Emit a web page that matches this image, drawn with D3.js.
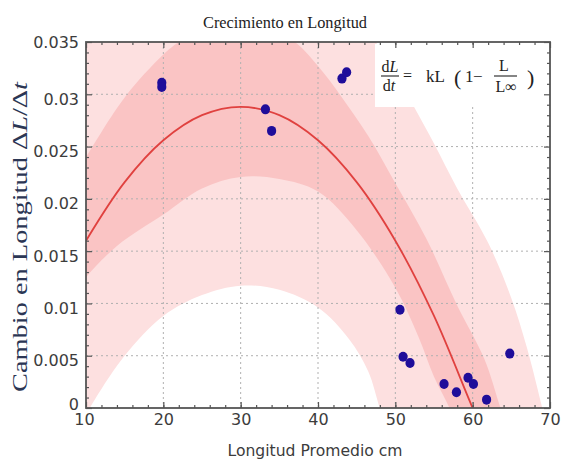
<!DOCTYPE html>
<html>
<head>
<meta charset="utf-8">
<script src="https://cdn.jsdelivr.net/npm/d3@7"></script>
<style>
  html, body { margin: 0; padding: 0; background: #fff; }
  svg { display: block; }
</style>
</head>
<body>
<div id="chart"></div>
<script>
// ticks
const xTicks = [10, 20, 30, 40, 50, 60, 70];
const yTicks = [0, 0.005, 0.01, 0.015, 0.02, 0.025, 0.03, 0.035];
const yTickLabels = ["0", "0.005", "0.01", "0.015", "0.02", "0.025", "0.03", "0.035"];

// observed points [longitud, cambio]
const obsL = [19.8, 19.8, 33.2, 34.0, 43.1, 43.7, 50.6, 51.0, 51.9, 56.3, 57.9, 59.4, 60.1, 61.8, 64.8];
const obsD = [0.0311, 0.0307, 0.02856, 0.0265, 0.0315, 0.0321, 0.0094, 0.0049, 0.0043, 0.0023, 0.0015, 0.0029, 0.0023, 0.0008, 0.0052];

// fitted curve
const fitL = [10, 15, 20, 25, 30, 35, 40, 45, 50, 55, 60, 61];
const fitD = [0.016, 0.0216, 0.0256, 0.028, 0.0288, 0.028, 0.0256, 0.0216, 0.016, 0.0088, 0, -0.0016];

// band edges
const outerHiL = [9, 20, 30, 40, 45, 50, 52.5, 55, 58, 62, 65, 67, 69, 70];
const outerHiD = [0.040, 0.050, 0.052, 0.045, 0.038, 0.032, 0.0287, 0.0253, 0.021, 0.0158, 0.0105, 0.0058, 0, -0.003];
const innerHiL = [9, 10, 15, 20, 22, 25, 29, 33, 37, 40, 43, 46.5, 50, 54, 58, 61.5, 63.6, 65];
const innerHiD = [0.0228, 0.024, 0.0297, 0.0338, 0.035, 0.0363, 0.037, 0.0364, 0.035, 0.0327, 0.0298, 0.026, 0.0215, 0.0162, 0.0098, 0.0047, 0, -0.003];
const innerLoL = [9, 10, 14, 20, 25, 30, 35, 40, 45, 50, 53, 55, 57, 58];
const innerLoD = [0.0115, 0.0125, 0.0155, 0.0185, 0.021, 0.0221, 0.0219, 0.0207, 0.017, 0.0115, 0.0068, 0.003, 0, -0.002];
const outerLoL = [9.5, 10.5, 15, 20, 25, 30, 35, 40, 44, 46.5, 48, 49];
const outerLoD = [-0.0015, 0, 0.005, 0.0088, 0.0108, 0.0117, 0.0113, 0.0096, 0.0066, 0.0035, 0, -0.002];

const W = 561, H = 462;
const pL = 86, pR = 550, pT = 42, pB = 408;

const svg = d3.select("#chart").append("svg")
  .attr("width", W).attr("height", H);

const x = d3.scaleLinear().domain([10, 70]).range([pL, pR]);
const y = d3.scaleLinear().domain([0, 0.035]).range([pB, pT]);

svg.append("clipPath").attr("id", "plotclip")
  .append("rect").attr("x", pL).attr("y", pT)
  .attr("width", pR - pL).attr("height", pB - pT);

const plot = svg.append("g").attr("clip-path", "url(#plotclip)");

// fill under a curve down to the bottom edge
function under(ls, ds) {
  return d3.area()
    .x(i => x(ls[i]))
    .y0(pB + 20)
    .y1(i => y(ds[i]))
    .curve(d3.curveCatmullRom)(d3.range(ls.length));
}

plot.append("path").attr("d", under(outerHiL, outerHiD)).attr("fill", "#fde0e0");
plot.append("path").attr("d", under(innerHiL, innerHiD)).attr("fill", "#fac4c4");
plot.append("path").attr("d", under(innerLoL, innerLoD)).attr("fill", "#fde0e0");
plot.append("path").attr("d", under(outerLoL, outerLoD)).attr("fill", "#ffffff");

// dotted grid
plot.append("g").selectAll("line").data(xTicks.slice(1, -1)).join("line")
  .attr("x1", d => x(d)).attr("x2", d => x(d))
  .attr("y1", pT).attr("y2", pB)
  .attr("stroke", "#b0b0b0").attr("stroke-width", 1).attr("stroke-dasharray", "2,3");
plot.append("g").selectAll("line").data(yTicks.slice(1, -1)).join("line")
  .attr("y1", d => y(d)).attr("y2", d => y(d))
  .attr("x1", pL).attr("x2", pR)
  .attr("stroke", "#b0b0b0").attr("stroke-width", 1).attr("stroke-dasharray", "2,3");

// fitted line
plot.append("path")
  .attr("d", d3.line().x(i => x(fitL[i])).y(i => y(fitD[i])).curve(d3.curveCatmullRom)(d3.range(fitL.length)))
  .attr("fill", "none").attr("stroke", "#e0413f").attr("stroke-width", 1.8);

// formula box
svg.append("rect").attr("x", 375).attr("y", pT + 2).attr("width", pR - 376).attr("height", 63)
  .attr("fill", "#fff");

// points
plot.append("g").selectAll("ellipse").data(d3.range(obsL.length)).join("ellipse")
  .attr("cx", i => x(obsL[i])).attr("cy", i => y(obsD[i]))
  .attr("rx", 4.6).attr("ry", 5)
  .attr("fill", "#1f0d9a");

// axes
const tickFont = "DejaVu Sans, sans-serif";
const gx = svg.append("g").attr("transform", `translate(0,${pB})`)
  .call(d3.axisBottom(x).tickValues(xTicks).tickSizeInner(-6).tickSizeOuter(0).tickPadding(6));
const gxm = svg.append("g").attr("transform", `translate(0,${pB})`)
  .call(d3.axisBottom(x).tickValues(d3.range(12, 70, 2)).tickSizeInner(-3).tickSizeOuter(0).tickFormat(""));
const gt = svg.append("g").attr("transform", `translate(0,${pT})`)
  .call(d3.axisTop(x).tickValues(xTicks).tickSizeInner(-6).tickSizeOuter(0).tickFormat(""));
const gtm = svg.append("g").attr("transform", `translate(0,${pT})`)
  .call(d3.axisTop(x).tickValues(d3.range(12, 70, 2)).tickSizeInner(-3).tickSizeOuter(0).tickFormat(""));

const gy = svg.append("g").attr("transform", `translate(${pL},0)`)
  .call(d3.axisLeft(y).tickValues(yTicks).tickSizeInner(-6).tickSizeOuter(0).tickPadding(7)
    .tickFormat((d, i) => yTickLabels[i]));
const yMinor = d3.range(1, 35).filter(v => v % 5 !== 0).map(v => v / 1000);
const gym = svg.append("g").attr("transform", `translate(${pL},0)`)
  .call(d3.axisLeft(y).tickValues(yMinor).tickSizeInner(-3).tickSizeOuter(0).tickFormat(""));
const gr = svg.append("g").attr("transform", `translate(${pR},0)`)
  .call(d3.axisRight(y).tickValues(yTicks).tickSizeInner(-6).tickSizeOuter(0).tickFormat(""));
const grm = svg.append("g").attr("transform", `translate(${pR},0)`)
  .call(d3.axisRight(y).tickValues(yMinor).tickSizeInner(-3).tickSizeOuter(0).tickFormat(""));

[gx, gxm, gt, gtm, gy, gym, gr, grm].forEach(g => {
  g.select(".domain").remove();
  g.selectAll("line").attr("stroke", "#555").attr("stroke-width", 1.2);
  g.selectAll("text").attr("font-family", tickFont).attr("font-size", 16).attr("fill", "#3c3c3c");
});
gy.selectAll("text").attr("dy", (d, i) => d === 0 ? "0.1em" : (d === 0.035 ? "0.32em" : "0.62em"));
gx.selectAll("text").attr("dx", (d, i) => d === 10 ? "-2" : "0");

// frame
svg.append("rect").attr("x", pL).attr("y", pT)
  .attr("width", pR - pL).attr("height", pB - pT)
  .attr("fill", "none").attr("stroke", "#555").attr("stroke-width", 1.8);

// formula text
const serif = "Liberation Serif, serif";
const ft = svg.append("g").attr("font-family", serif).attr("fill", "#222");
ft.append("text").attr("x", 390).attr("y", 72).attr("text-anchor", "middle").attr("font-size", 16)
  .html('d<tspan font-style="italic">L</tspan>');
ft.append("line").attr("x1", 381).attr("x2", 399).attr("y1", 76).attr("y2", 76).attr("stroke", "#222").attr("stroke-width", 1.1);
ft.append("text").attr("x", 389).attr("y", 91).attr("text-anchor", "middle").attr("font-size", 16)
  .html('d<tspan font-style="italic">t</tspan>');
ft.append("text").attr("x", 403).attr("y", 81).attr("font-size", 16).text("=");
ft.append("text").attr("x", 426).attr("y", 82).attr("font-size", 17).text("kL");
ft.append("text").attr("x", 454).attr("y", 85).attr("font-size", 22).text("(");
ft.append("text").attr("x", 465).attr("y", 82).attr("font-size", 17).text("1");
ft.append("text").attr("x", 473).attr("y", 82).attr("font-size", 17).text("\u2212");
ft.append("text").attr("x", 504).attr("y", 71).attr("text-anchor", "middle").attr("font-size", 16).text("L");
ft.append("line").attr("x1", 494).attr("x2", 517).attr("y1", 76).attr("y2", 76).attr("stroke", "#222").attr("stroke-width", 1.1);
ft.append("text").attr("x", 506).attr("y", 92).attr("text-anchor", "middle").attr("font-size", 16).text("L\u221e");
ft.append("text").attr("x", 527).attr("y", 85).attr("font-size", 22).text(")");

// titles
svg.append("text").attr("x", 285).attr("y", 28).attr("text-anchor", "middle")
  .attr("font-family", serif).attr("font-size", 17).attr("fill", "#222")
  .attr("textLength", 164).attr("lengthAdjust", "spacingAndGlyphs")
  .text("Crecimiento en Longitud");

svg.append("text").attr("x", 315).attr("y", 456).attr("text-anchor", "middle")
  .attr("font-family", tickFont).attr("font-size", 15).attr("fill", "#3c3c3c")
  .attr("textLength", 175).attr("lengthAdjust", "spacingAndGlyphs")
  .text("Longitud Promedio cm");

svg.append("text").attr("transform", "translate(27,237) rotate(-90)").attr("text-anchor", "middle")
  .attr("font-family", serif).attr("font-size", 20).attr("fill", "#2b3654")
  .attr("textLength", 310).attr("lengthAdjust", "spacingAndGlyphs")
  .html('Cambio en Longitud \u0394<tspan font-style="italic">L</tspan>/\u0394<tspan font-style="italic">t</tspan>');
</script>
</body>
</html>
